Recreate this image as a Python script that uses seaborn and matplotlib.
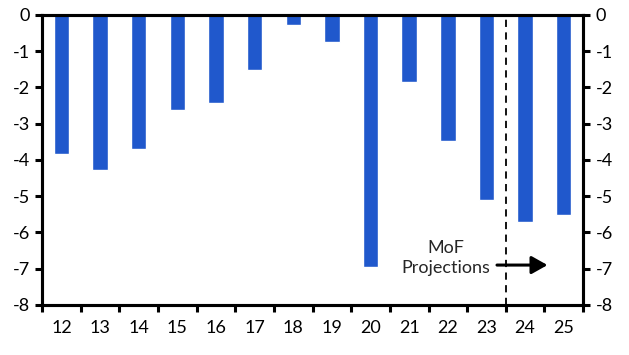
import matplotlib
matplotlib.use("Agg")
import matplotlib.pyplot as plt
import numpy as np
import pandas as pd
import seaborn as sns

# Fiscal balance (% of GDP), years 2012-2025
years = ["12", "13", "14", "15", "16", "17", "18", "19", "20", "21", "22", "23", "24", "25"]
balance = [-3.83, -4.28, -3.70, -2.62, -2.42, -1.51, -0.27, -0.76, -6.95, -1.84, -3.47, -5.10, -5.71, -5.52]
y_ticks = [0, -1, -2, -3, -4, -5, -6, -7, -8]
projection_start = "24"
annotation = "MoF\nProjections"

BAR_COLOR = "#2058CC"
FONT = "Lato"
FS = 13

sns.set_theme(style="white")
plt.rcParams["font.family"] = [FONT, "DejaVu Sans"]

df = pd.DataFrame({"year": years, "balance": balance})

fig, ax = plt.subplots(figsize=(6.29, 3.55), dpi=100)
fig.subplots_adjust(left=0.067, right=0.927, top=0.958, bottom=0.141)

sns.barplot(data=df, x="year", y="balance", color=BAR_COLOR, width=0.4,
            saturation=1, ax=ax)

n = len(years)
ax.set_xlim(-0.5, n - 0.5)
ax.set_ylim(min(y_ticks), max(y_ticks))
ax.set_xlabel("")
ax.set_ylabel("")

# x: tick marks at category boundaries, labels at centres
ax.set_xticks(np.arange(n + 1) - 0.5)
ax.set_xticklabels([])
ax.set_xticks(np.arange(n), minor=True)
ax.set_xticklabels(years, minor=True, fontsize=FS)
ax.tick_params(axis="x", which="major", direction="out", length=5, width=2.2,
               color="black", bottom=True)
ax.tick_params(axis="x", which="minor", length=0, pad=11, labelcolor="black")

ax.set_yticks(y_ticks)
ax.set_yticklabels([str(t) for t in y_ticks], fontsize=FS)
ax.tick_params(axis="y", direction="out", length=5, width=2.2, color="black",
               left=True, labelcolor="black", pad=4)

ax2 = ax.twinx()
ax2.set_ylim(ax.get_ylim())
ax2.set_yticks(y_ticks)
ax2.set_yticklabels([str(t) for t in y_ticks], fontsize=FS)
ax2.tick_params(axis="y", direction="out", length=5, width=2.2, color="black",
                right=True, labelcolor="black", pad=4)

for a in (ax, ax2):
    for side in ["left", "right", "top", "bottom"]:
        a.spines[side].set_visible(True)
        a.spines[side].set_color("black")
        a.spines[side].set_linewidth(2.2)
    a.grid(False)

# projection marker
px = years.index(projection_start) - 0.5
ax.axvline(px, color="black", linestyle=(0, (4, 3)), linewidth=1.3)
ax.annotate("", xy=(px + 1.15, -6.9), xytext=(px - 0.3, -6.9),
            arrowprops=dict(arrowstyle="-|>,head_length=0.8,head_width=0.45",
                            color="black", linewidth=2.2))
ax.text(px - 0.4, -6.7, annotation, ha="right", va="center", fontsize=FS,
        multialignment="center", linespacing=1.35)

fig.savefig("out.png", dpi=100)
